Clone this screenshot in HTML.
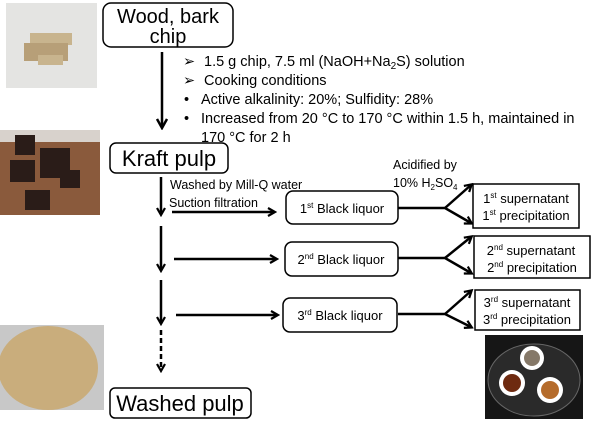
<!DOCTYPE html>
<html><head><meta charset="utf-8"><style>
html,body{margin:0;padding:0;background:#fff;width:600px;height:421px;overflow:hidden}
text{font-family:"Liberation Sans",Arial,sans-serif;fill:#000}
</style></head><body>
<svg width="600" height="421" viewBox="0 0 600 421" xmlns="http://www.w3.org/2000/svg">
<defs>
<marker id="a" markerWidth="10" markerHeight="10" refX="7" refY="5" orient="auto" markerUnits="userSpaceOnUse"><path d="M1,1 L8,5 L1,9" fill="none" stroke="#000" stroke-width="2.2"/></marker>
<marker id="b" markerWidth="12" markerHeight="12" refX="10" refY="6" orient="auto" markerUnits="userSpaceOnUse"><path d="M1,1 L10,6 L1,11" fill="none" stroke="#000" stroke-width="2.5"/></marker>
</defs>
<rect x="6" y="3" width="91" height="85" fill="#e4e4e2"/>
<g fill="#c8b48e"><rect x="30" y="33" width="42" height="12"/><rect x="24" y="43" width="44" height="18" fill="#b79f78"/><rect x="38" y="55" width="25" height="10"/></g>
<rect x="0" y="130" width="100" height="85" fill="#8a5a3c"/>
<rect x="0" y="130" width="100" height="12" fill="#d8d2cc"/>
<g fill="#2a1c18"><rect x="15" y="135" width="20" height="20"/><rect x="40" y="148" width="30" height="30"/><rect x="10" y="160" width="25" height="22"/><rect x="25" y="190" width="25" height="20"/><rect x="60" y="170" width="20" height="18"/></g>
<rect x="0" y="325" width="104" height="85" fill="#c8c8c8"/>
<ellipse cx="48" cy="368" rx="50" ry="42" fill="#c9ad7c"/>
<rect x="485" y="335" width="98" height="84" fill="#161616"/>
<ellipse cx="534" cy="380" rx="46" ry="36" fill="#2a2a2a" stroke="#666"/>
<circle cx="532" cy="358" r="12" fill="#fff"/><circle cx="532" cy="358" r="8" fill="#857868"/>
<circle cx="512" cy="383" r="13" fill="#fff"/><circle cx="512" cy="383" r="9" fill="#6e2a10"/>
<circle cx="550" cy="390" r="13" fill="#fff"/><circle cx="550" cy="390" r="9" fill="#b56c2c"/>
<g fill="none" stroke="#000" stroke-width="1.5">
<rect x="103" y="3" width="130" height="44" rx="8"/>
<rect x="110" y="143" width="118" height="30" rx="6"/>
<rect x="110" y="388" width="141" height="30" rx="5"/>
<rect x="286" y="191" width="112" height="33" rx="7"/>
<rect x="285" y="242" width="113" height="34" rx="7"/>
<rect x="283" y="298" width="114" height="34" rx="7"/>
<rect x="473" y="184" width="106" height="44"/>
<rect x="474" y="236" width="116" height="42"/>
<rect x="475" y="290" width="105" height="40"/>
</g>
<text x="168" y="23" font-size="20" text-anchor="middle">Wood, bark</text>
<text x="168" y="43" font-size="20" text-anchor="middle">chip</text>
<text x="169" y="166" font-size="22" text-anchor="middle">Kraft pulp</text>
<text x="180" y="411" font-size="22" text-anchor="middle">Washed pulp</text>
<g font-size="14.5">
<text x="183" y="66">➢</text><text x="204" y="66">1.5 g chip, 7.5 ml (NaOH+Na<tspan font-size="10" dy="3">2</tspan><tspan dy="-3">S) solution</tspan></text>
<text x="183" y="85">➢</text><text x="204" y="85">Cooking conditions</text>
<text x="184" y="104">•</text><text x="201" y="104">Active alkalinity: 20%; Sulfidity: 28%</text>
<text x="184" y="123">•</text><text x="201" y="123">Increased from 20 °C to 170 °C within 1.5 h, maintained in</text>
<text x="201" y="142">170 °C for 2 h</text>
</g>
<g stroke="#000" stroke-width="2.5" fill="none">
<line x1="162" y1="52" x2="162" y2="128" marker-end="url(#b)"/>
<line x1="161" y1="177" x2="161" y2="214" marker-end="url(#a)"/>
<line x1="161" y1="226" x2="161" y2="270" marker-end="url(#a)"/>
<line x1="161" y1="280" x2="161" y2="323" marker-end="url(#a)"/>
<line x1="161" y1="330" x2="161" y2="370" marker-end="url(#a)" stroke-dasharray="5,3"/>
<line x1="172" y1="212" x2="274" y2="212" marker-end="url(#a)"/>
<line x1="174" y1="259" x2="276" y2="259" marker-end="url(#a)"/>
<line x1="176" y1="315" x2="277" y2="315" marker-end="url(#a)"/>
<path d="M398,208 H445 L471,223" marker-end="url(#a)"/>
<path d="M445,208 L471,185" marker-end="url(#a)"/>
<path d="M398,258 H445 L471,273" marker-end="url(#a)"/>
<path d="M445,258 L471,237" marker-end="url(#a)"/>
<path d="M398,314 H445 L471,327" marker-end="url(#a)"/>
<path d="M445,314 L471,291" marker-end="url(#a)"/>
</g>
<g font-size="12.5">
<text x="170" y="189">Washed by Mill-Q water</text>
<text x="169" y="207">Suction filtration</text>
<text x="393" y="169">Acidified by</text>
<text x="393" y="187">10% H<tspan font-size="8" dy="3">2</tspan><tspan dy="-3">SO</tspan><tspan font-size="8" dy="3">4</tspan></text>
</g>
<g font-size="13" text-anchor="middle">
<text x="342" y="213">1<tspan font-size="8" dy="-5">st</tspan><tspan dy="5"> Black liquor</tspan></text>
<text x="341" y="264">2<tspan font-size="8" dy="-5">nd</tspan><tspan dy="5"> Black liquor</tspan></text>
<text x="340" y="320">3<tspan font-size="8" dy="-5">rd</tspan><tspan dy="5"> Black liquor</tspan></text>
<text x="526" y="203">1<tspan font-size="8" dy="-5">st</tspan><tspan dy="5"> supernatant</tspan></text>
<text x="526" y="220">1<tspan font-size="8" dy="-5">st</tspan><tspan dy="5"> precipitation</tspan></text>
<text x="531" y="255">2<tspan font-size="8" dy="-5">nd</tspan><tspan dy="5"> supernatant</tspan></text>
<text x="532" y="272">2<tspan font-size="8" dy="-5">nd</tspan><tspan dy="5">  precipitation</tspan></text>
<text x="527" y="307">3<tspan font-size="8" dy="-5">rd</tspan><tspan dy="5"> supernatant</tspan></text>
<text x="527" y="324">3<tspan font-size="8" dy="-5">rd</tspan><tspan dy="5"> precipitation</tspan></text>
</g>
</svg>
</body></html>
